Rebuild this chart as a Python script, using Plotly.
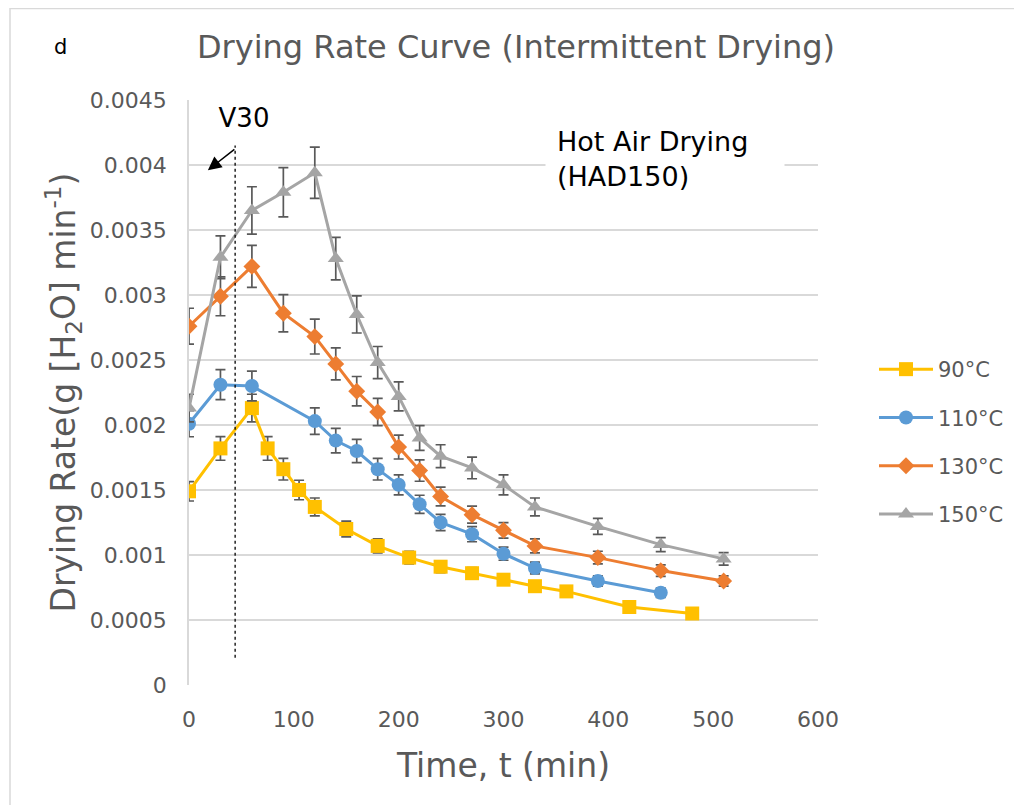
import plotly.graph_objects as go

# -------------------------
# DATA
# -------------------------
t_90 = [0, 30, 60, 75, 90, 105, 120, 150, 180, 210, 240, 270, 300, 330, 360, 420, 480]
rate_90 = [0.00149, 0.00182, 0.00213, 0.00182, 0.00166, 0.0015, 0.00137, 0.0012, 0.00107,
           0.00098, 0.00091, 0.00086, 0.00081, 0.00076, 0.00072, 0.0006, 0.00055]

t_110 = [0, 30, 60, 120, 140, 160, 180, 200, 220, 240, 270, 300, 330, 390, 450]
rate_110 = [0.00201, 0.00231, 0.0023, 0.00203, 0.00188, 0.0018, 0.00166, 0.00154, 0.00139,
            0.00125, 0.00116, 0.00101, 0.0009, 0.0008, 0.00071]

t_130 = [0, 30, 60, 90, 120, 140, 160, 180, 200, 220, 240, 270, 300, 330, 390, 450, 510]
rate_130 = [0.00276, 0.00299, 0.00322, 0.00286, 0.00268, 0.00247, 0.00226, 0.0021, 0.00183,
            0.00165, 0.00145, 0.00131, 0.00119, 0.00107, 0.00098, 0.00088, 0.0008]

t_150 = [0, 30, 60, 90, 120, 140, 160, 180, 200, 220, 240, 270, 300, 330, 390, 450, 510]
rate_150 = [0.00213, 0.00329, 0.00365, 0.00379, 0.00394, 0.00328, 0.00285, 0.00248, 0.00222,
            0.0019, 0.00176, 0.00167, 0.00154, 0.00137, 0.00122, 0.00108, 0.00097]

series_names = ["90°C", "110°C", "130°C", "150°C"]
y_ticks = [0, 0.0005, 0.001, 0.0015, 0.002, 0.0025, 0.003, 0.0035, 0.004, 0.0045]
y_ticktext = ["0", "0.0005", "0.001", "0.0015", "0.002", "0.0025", "0.003", "0.0035", "0.004", "0.0045"]

v30_time = 44  # dotted marker line (min)

# -------------------------
# STYLE / LAYOUT HELPERS
# -------------------------
FONT = "DejaVu Sans"
GREY_TXT = "#595959"
GRID = "#D9D9D9"

# page has an 8px body margin, so the figure is 8px smaller than the window
W, H = 1014, 797
PL, PT, PW, PH = 189, 100, 629, 585   # plot area in page pixels


def px_x(px):
    return (px - PL) / PW


def px_y(py):
    return (PT + PH - py) / PH


styles = [
    dict(color="#FFC000", symbol="square", size=14),
    dict(color="#5B9BD5", symbol="circle", size=14),
    dict(color="#ED7D31", symbol="diamond", size=13),
    dict(color="#A5A5A5", symbol="triangle-up", size=14),
]
data = [(t_90, rate_90), (t_110, rate_110), (t_130, rate_130), (t_150, rate_150)]

fig = go.Figure()
for i, ((tx, ry), name, st) in enumerate(zip(data, series_names, styles)):
    fig.add_trace(go.Scatter(
        x=tx, y=ry, name=name, mode="lines+markers",
        legendgroup=f"g{i}",
        line=dict(color=st["color"], width=3),
        marker=dict(color=st["color"], symbol=st["symbol"], size=st["size"]),
        error_y=dict(type="percent", value=5, color="#595959", thickness=1.7, width=5),
    ))

# dotted V30 line
fig.add_shape(type="line", x0=v30_time, x1=v30_time, y0=0.00021, y1=0.00415,
              line=dict(color="black", width=1.3, dash="dot"))

fig.add_annotation(x=18, y=0.00396, ax=28, ay=-22, showarrow=True, text="",
                   arrowhead=2, arrowsize=1.8, arrowwidth=1.5, arrowcolor="black")

fig.add_annotation(x=52, y=0.00436, text="V30", showarrow=False,
                   xanchor="center", yanchor="middle",
                   font=dict(family=FONT, size=26, color="black"),
                   bgcolor="white", width=96, height=40)

fig.add_annotation(x=(545 - 189) / 1.0483, y=0.00405, text="Hot Air Drying<br>(HAD150)",
                   showarrow=False, xanchor="left", yanchor="middle", align="left",
                   font=dict(family=FONT, size=27, color="black"),
                   bgcolor="white", width=216, height=72, borderpad=11)

fig.add_annotation(xref="paper", yref="paper", x=px_x(60), y=px_y(47),
                   xanchor="center", yanchor="middle", text="d", showarrow=False,
                   font=dict(family=FONT, size=21, color="black"))

# outer frame lines (left and top)
fig.add_shape(type="line", xref="paper", yref="paper",
              x0=px_x(10), x1=px_x(10), y0=px_y(805), y1=px_y(8),
              line=dict(color=GRID, width=1.5))
fig.add_shape(type="line", xref="paper", yref="paper",
              x0=px_x(10), x1=px_x(1022), y0=px_y(8.5), y1=px_y(8.5),
              line=dict(color=GRID, width=1.5))

fig.update_layout(
    width=W, height=H,
    margin=dict(l=PL - 8, r=W - (PL - 8) - PW, t=PT - 8, b=H - (PT - 8) - PH,
                autoexpand=False),
    paper_bgcolor="white", plot_bgcolor="white",
    font=dict(family=FONT, color=GREY_TXT),
    title=dict(text="Drying Rate Curve (Intermittent Drying)", xref="container", yref="container",
               x=(516 - 8) / W, y=1 - (47 - 8) / H, xanchor="center", yanchor="middle",
               font=dict(family=FONT, size=32, color=GREY_TXT)),
    legend=dict(x=px_x(874), y=px_y(442), xanchor="left", yanchor="middle",
                font=dict(family=FONT, size=21, color=GREY_TXT),
                tracegroupgap=18, itemwidth=54, bgcolor="rgba(0,0,0,0)"),
    showlegend=True,
)

fig.update_xaxes(range=[0, 600], dtick=100, showgrid=False, zeroline=False,
                 showline=False, ticks="outside", ticklen=15, tickcolor="rgba(0,0,0,0)",
                 tickfont=dict(family=FONT, size=22, color=GREY_TXT),
                 title=dict(text="Time, t (min)", font=dict(family=FONT, size=33, color=GREY_TXT),
                            standoff=22))
fig.update_yaxes(range=[0, 0.0045], tickvals=y_ticks, ticktext=y_ticktext,
                 showgrid=True, gridcolor=GRID, gridwidth=1.5, zeroline=False,
                 showline=True, linecolor=GRID, linewidth=1.5,
                 ticks="outside", ticklen=16, tickcolor="rgba(0,0,0,0)",
                 tickfont=dict(family=FONT, size=22, color=GREY_TXT),
                 title=dict(text="Drying Rate(g [H<sub>2</sub>O] min<sup>-1</sup>)",
                            font=dict(family=FONT, size=33, color=GREY_TXT), standoff=4))

fig.write_html("out.html")
